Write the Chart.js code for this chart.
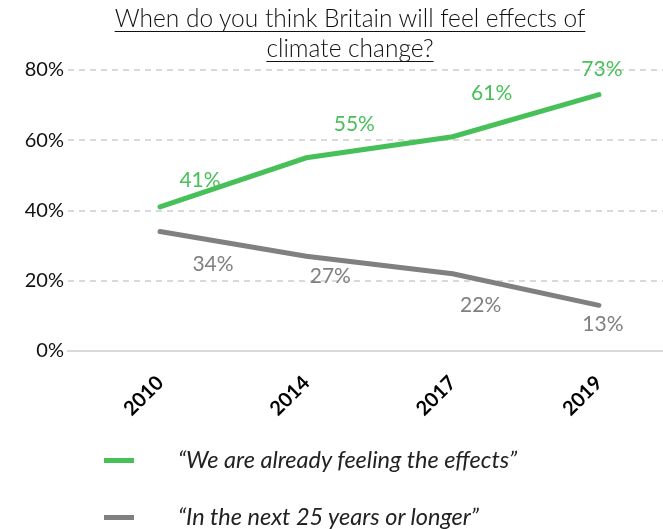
<!DOCTYPE html>
<html>
<head>
<meta charset="utf-8">
<script src="https://cdn.jsdelivr.net/npm/chart.js@4/dist/chart.umd.min.js"></script>
<style>
  body { margin: 0; background: #fff; }
  #wrap { position: relative; width: 663px; height: 529px; overflow: hidden; font-family: Lato, sans-serif; }
  #title { position: absolute; left: 0; width: 700px; top: 3px; text-align: center; font-size: 24.5px; font-weight: 300; line-height: 30px; color: #111; text-decoration: underline; text-decoration-thickness: 1px; text-underline-offset: 4px; }
  .leg { position: absolute; left: 104px; font-size: 23.5px; font-weight: 400; font-style: italic; color: #222; }
  .leg span.mark { position: absolute; left: 0; top: 12px; width: 30px; height: 5px; }
  .leg span.txt { position: absolute; left: 74px; top: -1px; white-space: nowrap; }
</style>
</head>
<body>
<div id="wrap">
  <canvas id="chart" width="663" height="529"></canvas>
  <div id="title">When do you think Britain will feel effects of<br>climate change?</div>
  <div id="legend"></div>
</div>
<script>
var years = ["2010", "2014", "2017", "2019"];
var alreadyFeeling = [41, 55, 61, 73];
var next25Years = [34, 27, 22, 13];
var seriesNames = ["\u201cWe are already feeling the effects\u201d", "\u201cIn the next 25 years or longer\u201d"];
var yTicks = [0, 20, 40, 60, 80];

var green = "#48c05a";
var grey = "#808080";

// where Excel put each value label, relative to its point
var labelOffsets = [
    [[40, -27], [48, -34], [39, -44], [3, -25]],
    [[53, 33], [24, 20], [28, 32], [4, 19]]
];

var valueLabels = {
    id: 'valueLabels',
    afterDatasetsDraw: function(chart) {
        var ctx = chart.ctx;
        ctx.save();
        ctx.font = '21px Lato';
        ctx.textAlign = 'center';
        ctx.textBaseline = 'middle';
        chart.data.datasets.forEach(function(ds, d) {
            var meta = chart.getDatasetMeta(d);
            ctx.fillStyle = ds.borderColor;
            meta.data.forEach(function(pt, i) {
                var off = labelOffsets[d][i];
                ctx.fillText(ds.data[i].y + '%', pt.x + off[0], pt.y + off[1]);
            });
        });
        ctx.restore();
    }
};

function points(values) {
    return values.map(function(v, i) { return {x: i, y: v}; });
}

var chartEl = document.getElementById("chart");
var chart = new Chart(chartEl, {
    type: 'line',
    plugins: [valueLabels],
    data: {
        datasets: [{
            label: seriesNames[0],
            data: points(alreadyFeeling),
            borderColor: green,
            backgroundColor: green,
            borderWidth: 5,
            pointRadius: 0,
            borderCapStyle: 'round'
        }, {
            label: seriesNames[1],
            data: points(next25Years),
            borderColor: grey,
            backgroundColor: grey,
            borderWidth: 5,
            pointRadius: 0,
            borderCapStyle: 'round'
        }]
    },
    options: {
        responsive: false,
        animation: false,
        layout: { padding: { top: 70, left: 0, right: 0, bottom: 0 } },
        plugins: {
            legend: { display: false },
            tooltip: { enabled: false }
        },
        scales: {
            x: {
                type: 'linear',
                min: -0.629,
                max: 3.438,
                afterBuildTicks: function(axis) {
                    axis.ticks = years.map(function(_, i) { return {value: i}; });
                },
                afterFit: function(axis) { axis.height = 178; },
                grid: { display: false },
                border: { display: true, color: '#d9d9d9', width: 2 },
                ticks: {
                    autoSkip: false,
                    minRotation: 45,
                    maxRotation: 45,
                    padding: 12,
                    color: '#000',
                    font: { family: 'Lato', size: 20, weight: 'bold' },
                    callback: function(v) { return years[v]; }
                }
            },
            y: {
                min: 0,
                max: 80,
                afterBuildTicks: function(axis) {
                    axis.ticks = yTicks.map(function(v) { return {value: v}; });
                },
                afterFit: function(axis) { axis.width = 68; },
                grid: { color: '#d9d9d9', lineWidth: 2, drawTicks: false },
                border: { display: false, dash: [6, 5] },
                ticks: {
                    padding: 4,
                    color: '#111',
                    font: { family: 'Lato', size: 20 },
                    callback: function(v) { return v + '%'; }
                }
            }
        }
    }
});

var legendEl = document.getElementById("legend");
[green, grey].forEach(function(c, i) {
    var row = document.createElement("div");
    row.className = "leg";
    row.style.top = (446 + i * 57) + "px";
    row.innerHTML = '<span class="mark" style="background:' + c + '"></span><span class="txt">' + seriesNames[i] + '</span>';
    legendEl.appendChild(row);
});
</script>
</body>
</html>
